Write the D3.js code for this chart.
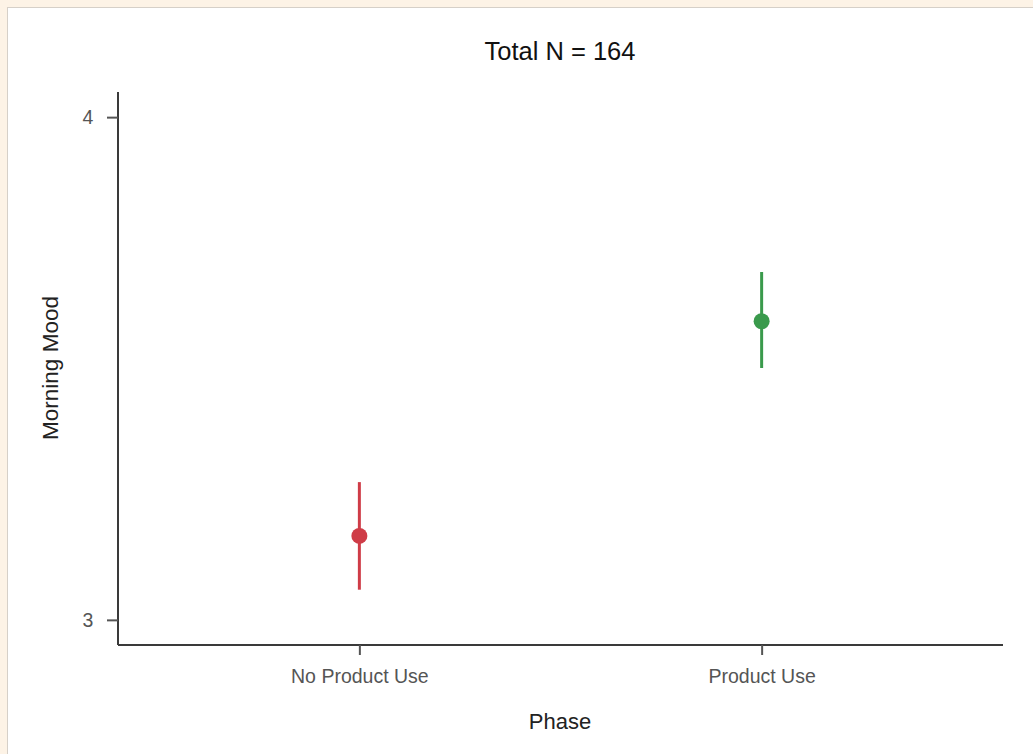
<!DOCTYPE html>
<html><head><meta charset="utf-8">
<script src="https://cdn.jsdelivr.net/npm/d3@7"></script>
<style>
html,body{margin:0;padding:0;background:#fdf3e6;}
svg{display:block;}
</style></head>
<body>
<svg id="chart" width="1033" height="754"></svg>
<script>
const categories = ["No Product Use", "Product Use"];
const means = [3.167, 3.594];
const lowers = [3.060, 3.501];
const uppers = [3.274, 3.692];
const colors = ["#cf3c47", "#3a9a4c"];
const yTicks = [3, 4];
const title = "Total N = 164";
const xTitle = "Phase";
const yTitle = "Morning Mood";

const svg = d3.select("#chart");
// background frame
svg.append("rect").attr("x",0).attr("y",0).attr("width",1033).attr("height",754).attr("fill","#fdf3e6");
svg.append("rect").attr("x",7).attr("y",7).attr("width",1026).attr("height",747).attr("fill","#d6d0c8");
svg.append("rect").attr("x",8).attr("y",8).attr("width",1025).attr("height",746).attr("fill","#ffffff");

const mLeft = 118, mRight = 1003, mTop = 92, mBottom = 645;
const x = d3.scalePoint().domain(categories).range([mLeft, mRight]).padding(0.6);
const y = d3.scaleLinear().domain([2.95, 4.05]).range([mBottom, mTop]);

const font = "'Liberation Sans', Arial, sans-serif";

// axes
const yAxis = svg.append("g").attr("transform", `translate(${mLeft},0)`)
  .call(d3.axisLeft(y).tickValues(yTicks).tickFormat(d3.format("d")).tickSize(11).tickPadding(19).tickSizeOuter(0));
const xAxis = svg.append("g").attr("transform", `translate(0,${mBottom})`)
  .call(d3.axisBottom(x).tickSize(10).tickPadding(14).tickSizeOuter(0));
[yAxis, xAxis].forEach(g => {
  g.select(".domain").attr("stroke", "#3a3a3a").attr("stroke-width", 2);
  g.selectAll(".tick line").attr("stroke", "#555").attr("stroke-width", 2);
  g.selectAll(".tick text").attr("fill", "#555").style("font-size", "19.5px").style("font-family", font);
});
yAxis.selectAll(".tick text").attr("text-anchor", "middle");
yAxis.select(".domain").attr("d", `M0,${mTop}V${mBottom}`);
xAxis.select(".domain").attr("d", `M${mLeft},0H${mRight}`);

// error bars and points
const marks = svg.append("g");
categories.forEach((c, i) => {
  marks.append("line").attr("x1", x(c)).attr("x2", x(c)).attr("y1", y(lowers[i])).attr("y2", y(uppers[i]))
    .attr("stroke", colors[i]).attr("stroke-width", 3);
  marks.append("circle").attr("cx", x(c)).attr("cy", y(means[i])).attr("r", 8).attr("fill", colors[i]);
});

// titles
svg.append("text").attr("x", 560).attr("y", 60).attr("text-anchor", "middle")
  .style("font-family", font).style("font-size", "25.5px").attr("fill", "#111").text(title);
svg.append("text").attr("x", 560).attr("y", 729).attr("text-anchor", "middle")
  .style("font-family", font).style("font-size", "22px").attr("fill", "#222").text(xTitle);
svg.append("text").attr("transform", "translate(58,368) rotate(-90)").attr("text-anchor", "middle")
  .style("font-family", font).style("font-size", "22.5px").attr("fill", "#222").text(yTitle);
</script>
</body></html>
